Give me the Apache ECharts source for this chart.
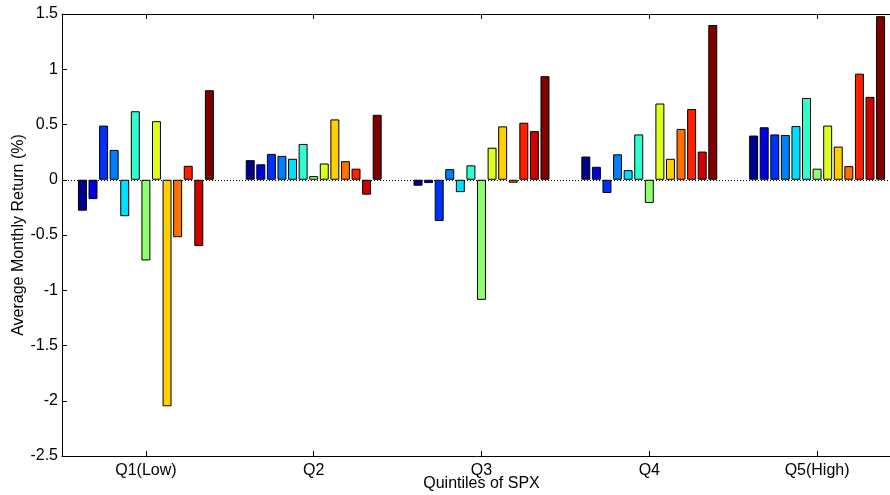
<!DOCTYPE html>
<html>
<head>
<meta charset="utf-8">
<script src="https://cdn.jsdelivr.net/npm/echarts@6/dist/echarts.min.js"></script>
<style>
html,body{margin:0;padding:0;background:#fff;}
#chart{width:890px;height:495px;}
</style>
</head>
<body>
<div id="chart"></div>
<script>
const categories = ['Q1(Low)', 'Q2', 'Q3', 'Q4', 'Q5(High)'];
// 13 bars per quintile
const q1 = [-0.28, -0.175, 0.49, 0.27, -0.33, 0.62, -0.73, 0.53, -2.05, -0.52, 0.126, -0.60, 0.81];
const q2 = [0.177, 0.14, 0.234, 0.216, 0.19, 0.324, 0.033, 0.147, 0.546, 0.168, 0.10, -0.135, 0.588];
const q3 = [-0.054, -0.03, -0.373, 0.096, -0.112, 0.13, -1.087, 0.29, 0.483, -0.027, 0.516, 0.44, 0.937];
const q4 = [0.21, 0.117, -0.12, 0.23, 0.087, 0.41, -0.21, 0.69, 0.19, 0.46, 0.64, 0.255, 1.40];
const q5 = [0.40, 0.475, 0.41, 0.405, 0.486, 0.74, 0.10, 0.49, 0.30, 0.123, 0.96, 0.75, 1.48];
const yTicks = [1.5, 1, 0.5, 0, -0.5, -1, -1.5, -2, -2.5];

const colors = ['#00008F', '#0000DF', '#0030FF', '#0080FF', '#00DFFF', '#30FFCF', '#8FFF70',
                '#DFFF20', '#FFCF00', '#FF7000', '#FF2000', '#CF0000', '#800000'];

const groups = [q1, q2, q3, q4, q5];
const font = '"Liberation Sans", Arial, Helvetica, sans-serif';

const series = colors.map((c, i) => ({
  type: 'bar',
  name: 'S' + (i + 1),
  data: groups.map(g => g[i]),
  barGap: '18%',
  barCategoryGap: '19%',
  itemStyle: { color: c, borderColor: '#000', borderWidth: 1 },
  emphasis: { disabled: true },
  z: 3
}));
// dotted zero reference line
series.push({
  type: 'line',
  name: 'zero',
  xAxisIndex: 0,
  data: [],
  markLine: {
    silent: true,
    symbol: 'none',
    label: { show: false },
    lineStyle: { color: '#000', type: [1, 2], width: 1, opacity: 1 },
    emphasis: { disabled: true },
    data: [{ yAxis: 0 }]
  },
  z: 2
});

const chart = echarts.init(document.getElementById('chart'), null, { renderer: 'canvas' });
chart.setOption({
  animation: false,
  backgroundColor: '#fff',
  textStyle: { fontFamily: font },
  grid: { left: 62, right: -11, top: 14, bottom: 39, containLabel: false, outerBoundsMode: 'none' },
  xAxis: [
    {
      type: 'category',
      data: categories,
      position: 'bottom',
      axisLine: { show: true, onZero: false, lineStyle: { color: '#000', width: 1 } },
      axisTick: { show: true, inside: true, alignWithLabel: true, length: 5, lineStyle: { color: '#000' } },
      axisLabel: { color: '#000', fontSize: 16, margin: 7, fontFamily: font },
      name: 'Quintiles of SPX',
      nameLocation: 'center',
      nameGap: 20,
      nameMoveOverlap: false,
      nameTextStyle: { color: '#000', fontSize: 16, fontFamily: font, verticalAlign: 'top' },
      splitLine: { show: false }
    },
    {
      type: 'category',
      data: categories,
      position: 'top',
      axisLine: { show: true, onZero: false, lineStyle: { color: '#000', width: 1 } },
      axisTick: { show: true, inside: true, alignWithLabel: true, length: 5, lineStyle: { color: '#000' } },
      axisLabel: { show: false },
      splitLine: { show: false }
    }
  ],
  yAxis: {
    type: 'value',
    min: -2.5,
    max: 1.5,
    interval: 0.5,
    axisLine: { show: true, onZero: false, lineStyle: { color: '#000', width: 1 } },
    axisTick: { show: true, inside: true, length: 5, lineStyle: { color: '#000' } },
    axisLabel: {
      color: '#000', fontSize: 16, margin: 4, fontFamily: font,
      formatter: v => String(yTicks.find(t => Math.abs(t - v) < 1e-9) ?? v)
    },
    splitLine: { show: false },
    name: 'Average Monthly Return (%)',
    nameLocation: 'center',
    nameGap: 35,
    nameMoveOverlap: false,
    nameRotate: 90,
    nameTextStyle: { color: '#000', fontSize: 16, fontFamily: font }
  },
  series: series
});
</script>
</body>
</html>
